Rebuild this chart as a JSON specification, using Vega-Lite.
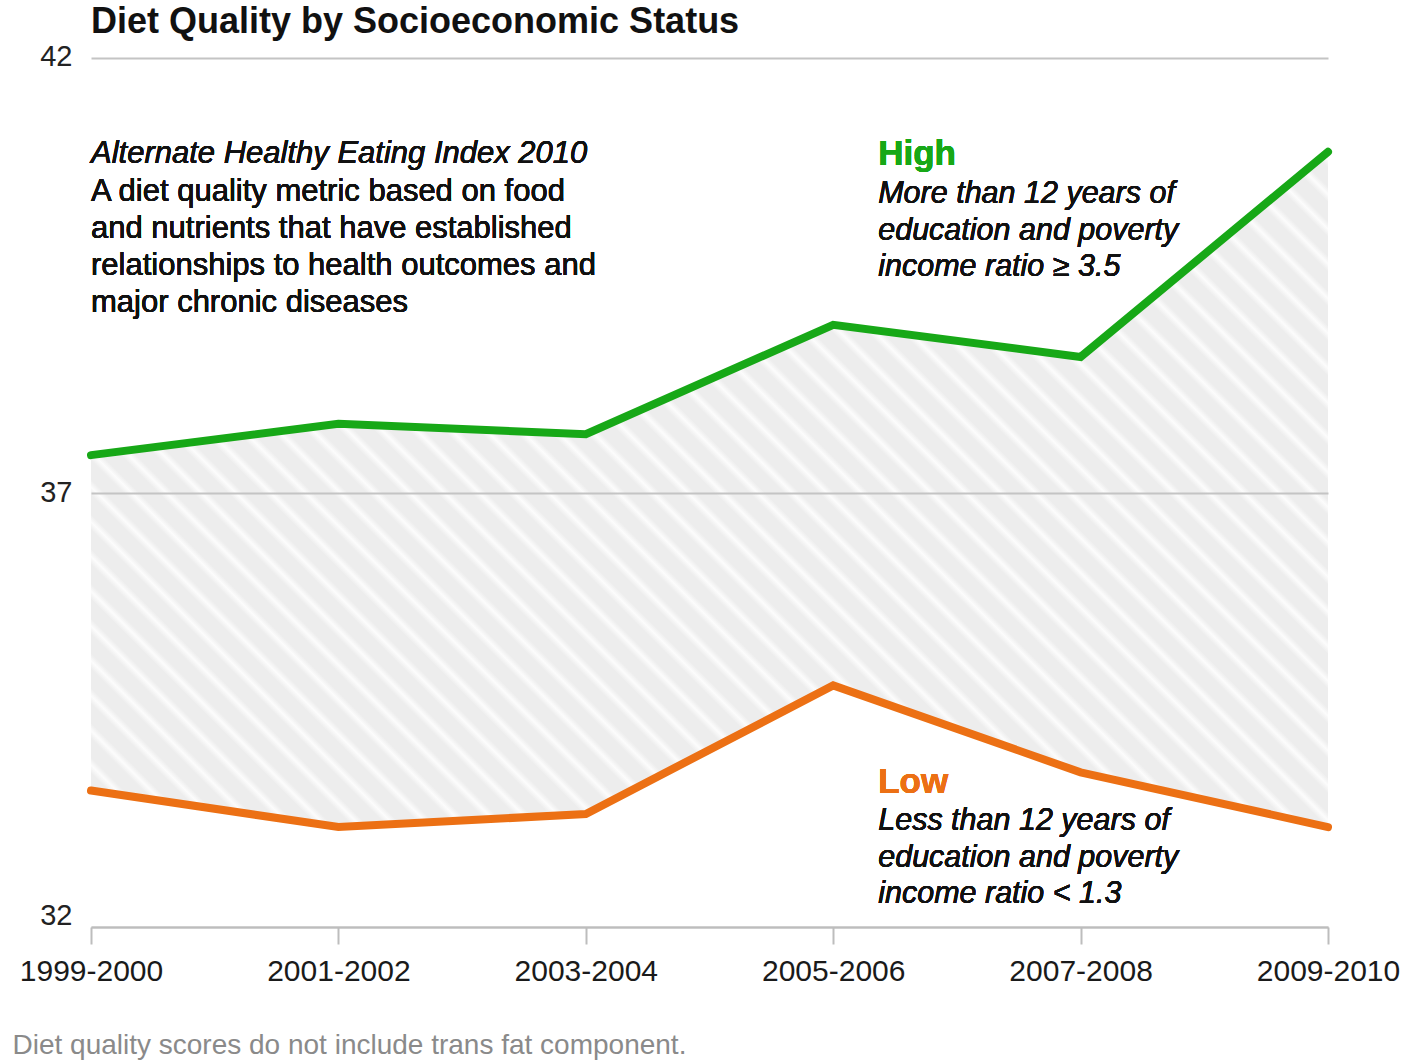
{
  "$schema": "https://vega.github.io/schema/vega-lite/v6.json",
  "width": 1237,
  "height": 869,
  "autosize": {"type": "none"},
  "padding": {"left": 91, "top": 58, "right": 90, "bottom": 134},
  "background": "white",
  "config": {"view": {"stroke": null}, "font": "Liberation Sans"},
  "title": {"text": "Diet Quality by Socioeconomic Status", "anchor": "start", "frame": "group", "fontSize": 36, "font": "Liberation Sans", "fontWeight": "bold", "color": "#111111", "offset": 1},
  "data": {"values": [
    {"period": "1999-2000", "High": 37.43, "Low": 33.57},
    {"period": "2001-2002", "High": 37.79, "Low": 33.15},
    {"period": "2003-2004", "High": 37.67, "Low": 33.30},
    {"period": "2005-2006", "High": 38.93, "Low": 34.78},
    {"period": "2007-2008", "High": 38.56, "Low": 33.78},
    {"period": "2009-2010", "High": 40.92, "Low": 33.15}
  ]},
  "encoding": {
    "x": {"field": "period", "type": "ordinal", "sort": null, "scale": {"type": "point", "padding": 0},
      "axis": {"title": "Diet quality scores do not include trans fat component.", "titleAnchor": "start", "titleAlign": "left", "titleX": -79, "titleY": 126, "titleBaseline": "alphabetic", "titleFontSize": 28, "titleFontWeight": "normal", "titleColor": "#8a8a8a", "titleFont": "Liberation Sans",
        "labelAngle": 0, "labelFontSize": 30, "labelColor": "#1a1a1a", "labelFont": "Liberation Sans", "labelPadding": 12, "labelOverlap": false, "labelFlush": false,
        "tickSize": 17, "tickColor": "#bdbdbd", "tickWidth": 2, "domainColor": "#bdbdbd", "domainWidth": 2, "grid": false, "zindex": 1}}
  },
  "layer": [
    {
      "mark": {"type": "area", "color": {"gradient": "linear", "x1": 0, "y1": 1, "x2": 1.191, "y2": 0.35, "stops": [
        {"offset": 0, "color": "#ededed"}, {"offset": 0.0100, "color": "#ededed"}, {"offset": 0.0142, "color": "#fcfcfc"},
        {"offset": 0.0182, "color": "#ededed"}, {"offset": 0.0282, "color": "#ededed"}, {"offset": 0.0324, "color": "#fcfcfc"},
        {"offset": 0.0364, "color": "#ededed"}, {"offset": 0.0464, "color": "#ededed"}, {"offset": 0.0505, "color": "#fcfcfc"},
        {"offset": 0.0545, "color": "#ededed"}, {"offset": 0.0645, "color": "#ededed"}, {"offset": 0.0687, "color": "#fcfcfc"},
        {"offset": 0.0727, "color": "#ededed"}, {"offset": 0.0827, "color": "#ededed"}, {"offset": 0.0869, "color": "#fcfcfc"},
        {"offset": 0.0909, "color": "#ededed"}, {"offset": 0.1009, "color": "#ededed"}, {"offset": 0.1051, "color": "#fcfcfc"},
        {"offset": 0.1091, "color": "#ededed"}, {"offset": 0.1191, "color": "#ededed"}, {"offset": 0.1233, "color": "#fcfcfc"},
        {"offset": 0.1273, "color": "#ededed"}, {"offset": 0.1373, "color": "#ededed"}, {"offset": 0.1415, "color": "#fcfcfc"},
        {"offset": 0.1455, "color": "#ededed"}, {"offset": 0.1555, "color": "#ededed"}, {"offset": 0.1596, "color": "#fcfcfc"},
        {"offset": 0.1636, "color": "#ededed"}, {"offset": 0.1736, "color": "#ededed"}, {"offset": 0.1778, "color": "#fcfcfc"},
        {"offset": 0.1818, "color": "#ededed"}, {"offset": 0.1918, "color": "#ededed"}, {"offset": 0.1960, "color": "#fcfcfc"},
        {"offset": 0.2000, "color": "#ededed"}, {"offset": 0.2100, "color": "#ededed"}, {"offset": 0.2142, "color": "#fcfcfc"},
        {"offset": 0.2182, "color": "#ededed"}, {"offset": 0.2282, "color": "#ededed"}, {"offset": 0.2324, "color": "#fcfcfc"},
        {"offset": 0.2364, "color": "#ededed"}, {"offset": 0.2464, "color": "#ededed"}, {"offset": 0.2505, "color": "#fcfcfc"},
        {"offset": 0.2545, "color": "#ededed"}, {"offset": 0.2645, "color": "#ededed"}, {"offset": 0.2687, "color": "#fcfcfc"},
        {"offset": 0.2727, "color": "#ededed"}, {"offset": 0.2827, "color": "#ededed"}, {"offset": 0.2869, "color": "#fcfcfc"},
        {"offset": 0.2909, "color": "#ededed"}, {"offset": 0.3009, "color": "#ededed"}, {"offset": 0.3051, "color": "#fcfcfc"},
        {"offset": 0.3091, "color": "#ededed"}, {"offset": 0.3191, "color": "#ededed"}, {"offset": 0.3233, "color": "#fcfcfc"},
        {"offset": 0.3273, "color": "#ededed"}, {"offset": 0.3373, "color": "#ededed"}, {"offset": 0.3415, "color": "#fcfcfc"},
        {"offset": 0.3455, "color": "#ededed"}, {"offset": 0.3555, "color": "#ededed"}, {"offset": 0.3596, "color": "#fcfcfc"},
        {"offset": 0.3636, "color": "#ededed"}, {"offset": 0.3736, "color": "#ededed"}, {"offset": 0.3778, "color": "#fcfcfc"},
        {"offset": 0.3818, "color": "#ededed"}, {"offset": 0.3918, "color": "#ededed"}, {"offset": 0.3960, "color": "#fcfcfc"},
        {"offset": 0.4000, "color": "#ededed"}, {"offset": 0.4100, "color": "#ededed"}, {"offset": 0.4142, "color": "#fcfcfc"},
        {"offset": 0.4182, "color": "#ededed"}, {"offset": 0.4282, "color": "#ededed"}, {"offset": 0.4324, "color": "#fcfcfc"},
        {"offset": 0.4364, "color": "#ededed"}, {"offset": 0.4464, "color": "#ededed"}, {"offset": 0.4505, "color": "#fcfcfc"},
        {"offset": 0.4545, "color": "#ededed"}, {"offset": 0.4645, "color": "#ededed"}, {"offset": 0.4687, "color": "#fcfcfc"},
        {"offset": 0.4727, "color": "#ededed"}, {"offset": 0.4827, "color": "#ededed"}, {"offset": 0.4869, "color": "#fcfcfc"},
        {"offset": 0.4909, "color": "#ededed"}, {"offset": 0.5009, "color": "#ededed"}, {"offset": 0.5051, "color": "#fcfcfc"},
        {"offset": 0.5091, "color": "#ededed"}, {"offset": 0.5191, "color": "#ededed"}, {"offset": 0.5233, "color": "#fcfcfc"},
        {"offset": 0.5273, "color": "#ededed"}, {"offset": 0.5373, "color": "#ededed"}, {"offset": 0.5415, "color": "#fcfcfc"},
        {"offset": 0.5455, "color": "#ededed"}, {"offset": 0.5555, "color": "#ededed"}, {"offset": 0.5596, "color": "#fcfcfc"},
        {"offset": 0.5636, "color": "#ededed"}, {"offset": 0.5736, "color": "#ededed"}, {"offset": 0.5778, "color": "#fcfcfc"},
        {"offset": 0.5818, "color": "#ededed"}, {"offset": 0.5918, "color": "#ededed"}, {"offset": 0.5960, "color": "#fcfcfc"},
        {"offset": 0.6000, "color": "#ededed"}, {"offset": 0.6100, "color": "#ededed"}, {"offset": 0.6142, "color": "#fcfcfc"},
        {"offset": 0.6182, "color": "#ededed"}, {"offset": 0.6282, "color": "#ededed"}, {"offset": 0.6324, "color": "#fcfcfc"},
        {"offset": 0.6364, "color": "#ededed"}, {"offset": 0.6464, "color": "#ededed"}, {"offset": 0.6505, "color": "#fcfcfc"},
        {"offset": 0.6545, "color": "#ededed"}, {"offset": 0.6645, "color": "#ededed"}, {"offset": 0.6687, "color": "#fcfcfc"},
        {"offset": 0.6727, "color": "#ededed"}, {"offset": 0.6827, "color": "#ededed"}, {"offset": 0.6869, "color": "#fcfcfc"},
        {"offset": 0.6909, "color": "#ededed"}, {"offset": 0.7009, "color": "#ededed"}, {"offset": 0.7051, "color": "#fcfcfc"},
        {"offset": 0.7091, "color": "#ededed"}, {"offset": 0.7191, "color": "#ededed"}, {"offset": 0.7233, "color": "#fcfcfc"},
        {"offset": 0.7273, "color": "#ededed"}, {"offset": 0.7373, "color": "#ededed"}, {"offset": 0.7415, "color": "#fcfcfc"},
        {"offset": 0.7455, "color": "#ededed"}, {"offset": 0.7555, "color": "#ededed"}, {"offset": 0.7596, "color": "#fcfcfc"},
        {"offset": 0.7636, "color": "#ededed"}, {"offset": 0.7736, "color": "#ededed"}, {"offset": 0.7778, "color": "#fcfcfc"},
        {"offset": 0.7818, "color": "#ededed"}, {"offset": 0.7918, "color": "#ededed"}, {"offset": 0.7960, "color": "#fcfcfc"},
        {"offset": 0.8000, "color": "#ededed"}, {"offset": 0.8100, "color": "#ededed"}, {"offset": 0.8142, "color": "#fcfcfc"},
        {"offset": 0.8182, "color": "#ededed"}, {"offset": 0.8282, "color": "#ededed"}, {"offset": 0.8324, "color": "#fcfcfc"},
        {"offset": 0.8364, "color": "#ededed"}, {"offset": 0.8464, "color": "#ededed"}, {"offset": 0.8505, "color": "#fcfcfc"},
        {"offset": 0.8545, "color": "#ededed"}, {"offset": 0.8645, "color": "#ededed"}, {"offset": 0.8687, "color": "#fcfcfc"},
        {"offset": 0.8727, "color": "#ededed"}, {"offset": 0.8827, "color": "#ededed"}, {"offset": 0.8869, "color": "#fcfcfc"},
        {"offset": 0.8909, "color": "#ededed"}, {"offset": 0.9009, "color": "#ededed"}, {"offset": 0.9051, "color": "#fcfcfc"},
        {"offset": 0.9091, "color": "#ededed"}, {"offset": 0.9191, "color": "#ededed"}, {"offset": 0.9233, "color": "#fcfcfc"},
        {"offset": 0.9273, "color": "#ededed"}, {"offset": 0.9373, "color": "#ededed"}, {"offset": 0.9415, "color": "#fcfcfc"},
        {"offset": 0.9455, "color": "#ededed"}, {"offset": 0.9555, "color": "#ededed"}, {"offset": 0.9596, "color": "#fcfcfc"},
        {"offset": 0.9636, "color": "#ededed"}, {"offset": 0.9736, "color": "#ededed"}, {"offset": 0.9778, "color": "#fcfcfc"},
        {"offset": 0.9818, "color": "#ededed"}, {"offset": 0.9918, "color": "#ededed"}, {"offset": 0.9960, "color": "#fcfcfc"},
        {"offset": 1, "color": "#ededed"}
      ]}},
      "encoding": {
        "y": {"field": "High", "type": "quantitative", "scale": {"domain": [32, 42], "nice": false, "zero": false},
          "axis": {"title": null, "values": [32, 37, 42], "format": "d", "grid": true, "gridColor": "#c4c4c4", "gridWidth": 2, "domain": false, "ticks": false, "tickSize": 0,
            "labelFontSize": 29, "labelColor": "#222222", "labelFont": "Liberation Sans", "labelPadding": 19, "labelBaseline": "middle",
            "labelOffset": {"expr": "datum.value == 32 ? -12 : (datum.value == 42 ? -2 : 0)"}, "zindex": 1}},
        "y2": {"field": "Low"}
      }
    },
    {
      "mark": {"type": "line", "color": "#17a817", "strokeWidth": 8, "strokeCap": "round"},
      "encoding": {"y": {"field": "High", "type": "quantitative"}}
    },
    {
      "mark": {"type": "line", "color": "#ec7014", "strokeWidth": 8, "strokeCap": "round"},
      "encoding": {"y": {"field": "Low", "type": "quantitative"}}
    },
    {
      "mark": {"type": "text", "text": "Alternate Healthy Eating Index 2010", "fontStyle": "italic", "fontSize": 31, "color": "#111111", "align": "left", "baseline": "alphabetic", "font": "Liberation Sans"},
      "encoding": {"x": {"datum": "1999-2000"}, "y": {"datum": 40.792}}
    },
    {
      "mark": {"type": "text", "text": ["A diet quality metric based on food", "and nutrients that have established", "relationships to health outcomes and", "major chronic diseases"], "lineHeight": 37, "fontSize": 31, "color": "#111111", "align": "left", "baseline": "alphabetic", "font": "Liberation Sans"},
      "encoding": {"x": {"datum": "1999-2000"}, "y": {"datum": 40.354}}
    },
    {
      "mark": {"type": "text", "text": "High", "fontWeight": "bold", "fontSize": 35, "color": "#17a817", "align": "left", "baseline": "alphabetic", "dx": 45, "font": "Liberation Sans"},
      "encoding": {"x": {"datum": "2005-2006"}, "y": {"datum": 40.769}}
    },
    {
      "mark": {"type": "text", "text": ["More than 12 years of", "education and poverty", "income ratio ≥ 3.5"], "fontStyle": "italic", "lineHeight": 36.5, "fontSize": 30.5, "color": "#111111", "align": "left", "baseline": "alphabetic", "dx": 45, "font": "Liberation Sans"},
      "encoding": {"x": {"datum": "2005-2006"}, "y": {"datum": 40.331}}
    },
    {
      "mark": {"type": "text", "text": "Low", "fontWeight": "bold", "fontSize": 35, "color": "#ec7014", "align": "left", "baseline": "alphabetic", "dx": 45, "font": "Liberation Sans"},
      "encoding": {"x": {"datum": "2005-2006"}, "y": {"datum": 33.542}}
    },
    {
      "mark": {"type": "text", "text": ["Less than 12 years of", "education and poverty", "income ratio < 1.3"], "fontStyle": "italic", "lineHeight": 36.5, "fontSize": 30.5, "color": "#111111", "align": "left", "baseline": "alphabetic", "dx": 45, "font": "Liberation Sans"},
      "encoding": {"x": {"datum": "2005-2006"}, "y": {"datum": 33.116}}
    }
  ]
}
